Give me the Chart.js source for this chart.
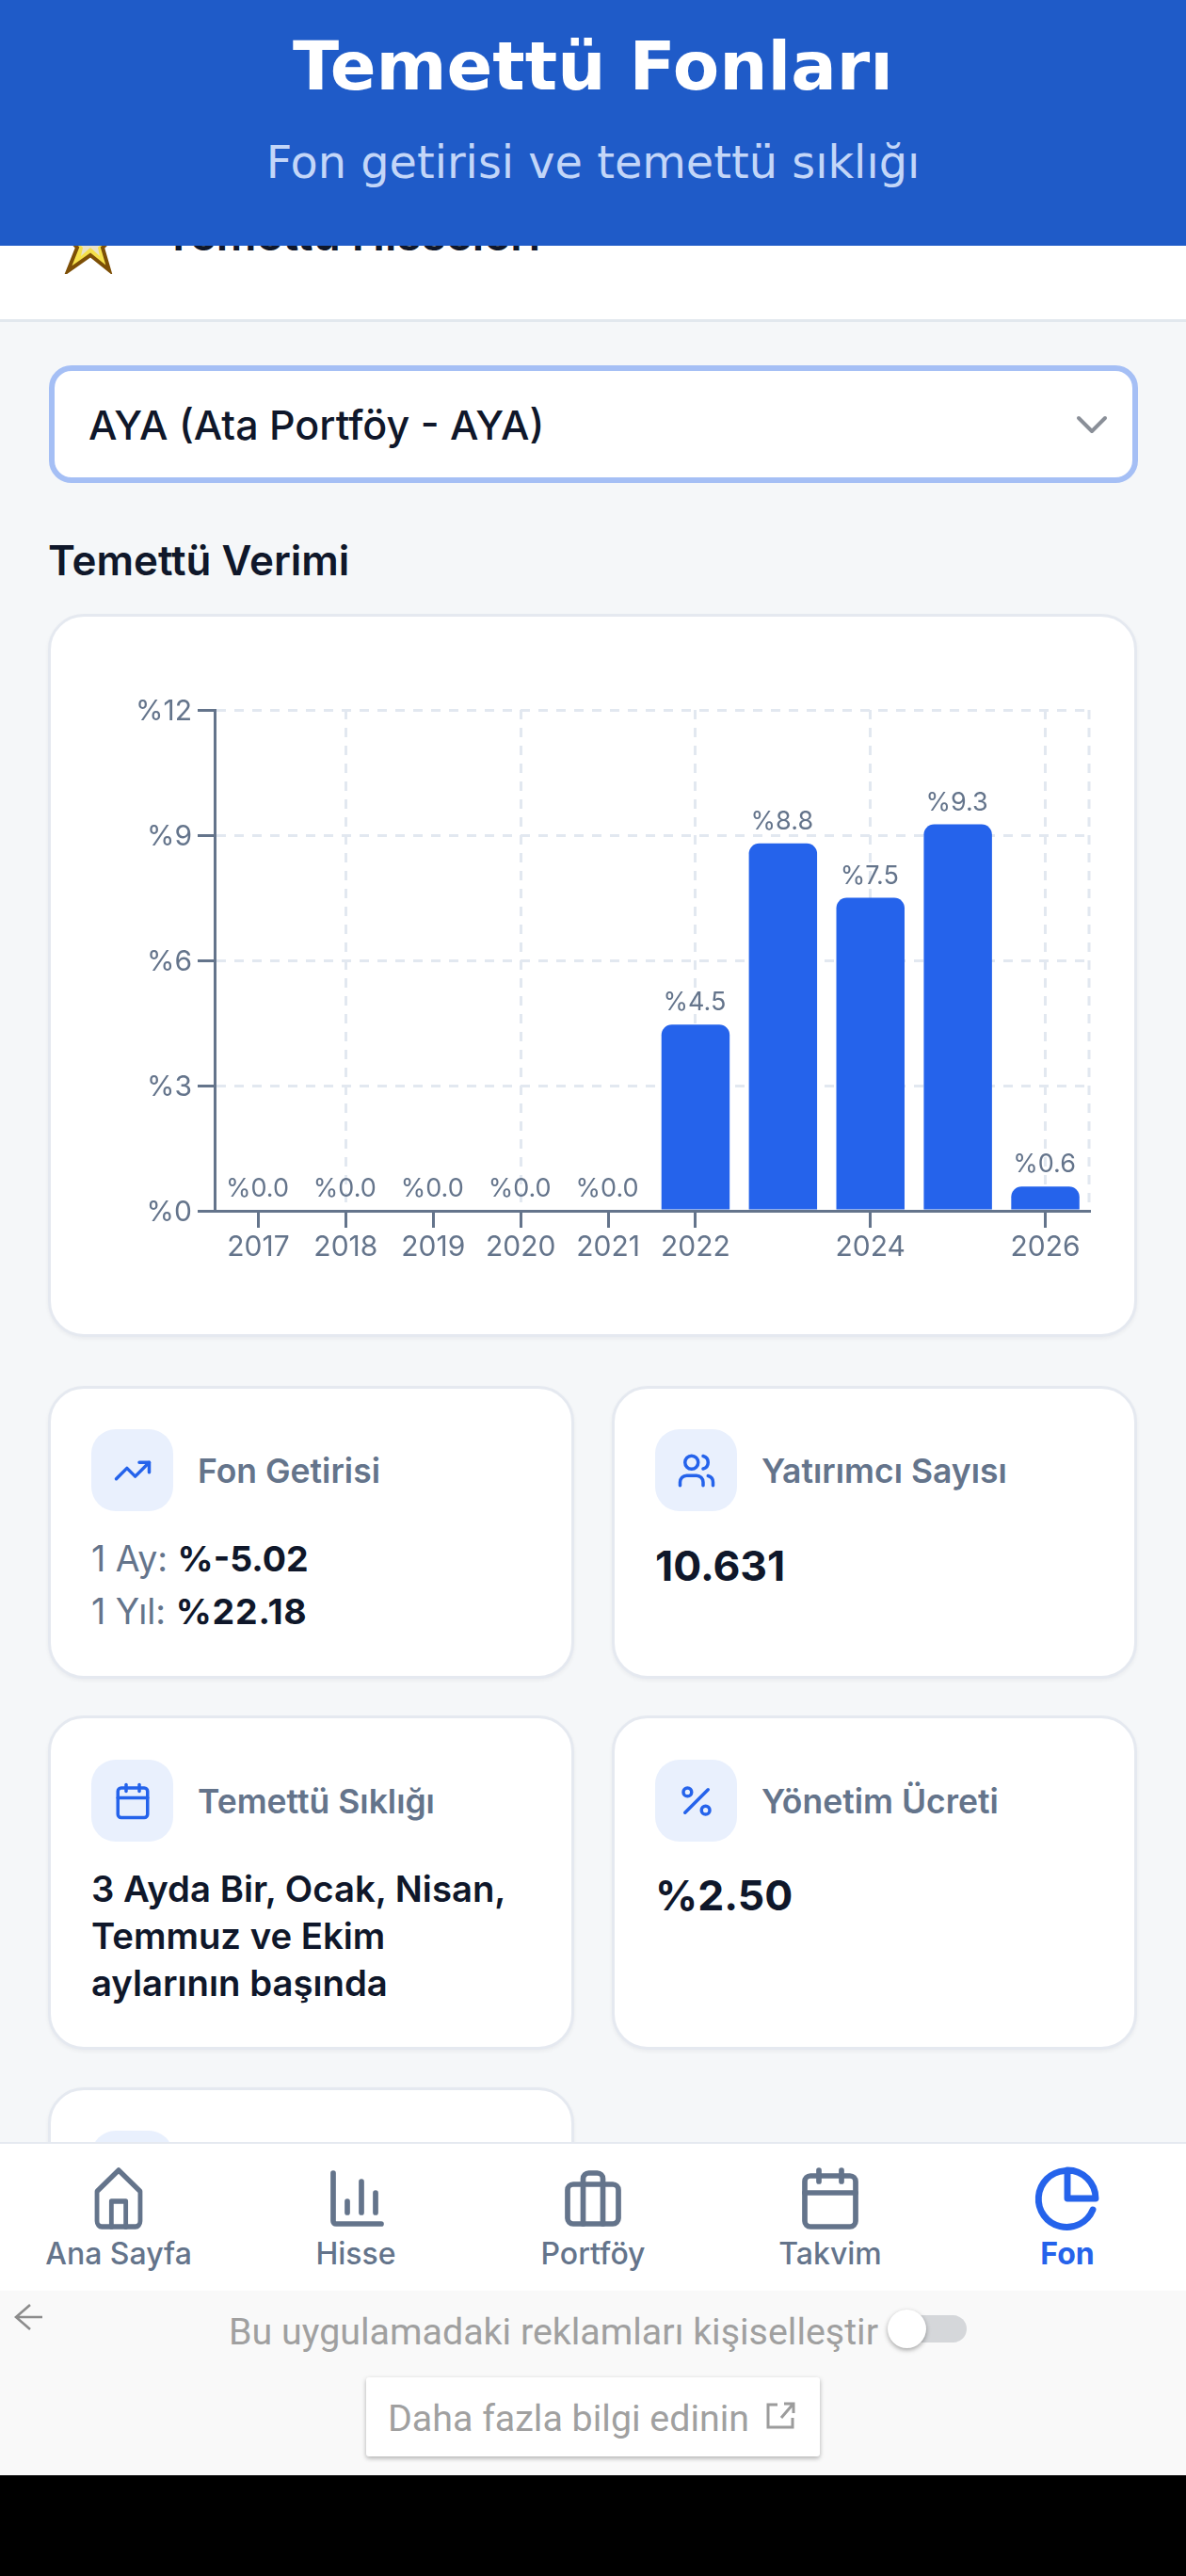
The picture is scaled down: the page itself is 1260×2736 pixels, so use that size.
<!DOCTYPE html>
<html lang="tr">
<head>
<meta charset="utf-8">
<title>Temettü Fonları</title>
<script src="https://cdn.jsdelivr.net/npm/chart.js@4"></script>
<style>
  html, body { margin: 0; padding: 0; }
  body { width: 1260px; height: 2736px; position: relative; overflow: hidden; background: #f5f7f9;
         font-family: Inter, sans-serif; color: #0f172a; }
  .abs { position: absolute; white-space: nowrap; }
  .header { left: 0; top: 0; width: 1260px; height: 261px; background: #1f5bc8; z-index: 5; }
  .card { position: absolute; box-sizing: border-box; background: #fff; border: 3px solid #e5e9f0; border-radius: 38px;
          box-shadow: 0 2px 4px rgba(15,23,42,.05); }
  .ico { position: absolute; width: 87px; height: 87px; background: #e9f0fd; border-radius: 26px;
         display: flex; align-items: center; justify-content: center; }
  .ico svg { width: 42px; height: 42px; fill: none; stroke: #2563eb; stroke-width: 2; stroke-linecap: round; stroke-linejoin: round; }
  .lbl { font-size: 35.5px; font-weight: 600; color: #64748b; line-height: 40px; }
  .ret { font-size: 37.5px; line-height: 44px; color: #64748b; }
  .ret b { color: #0f172a; font-weight: 700; }
  .big { font-size: 44.5px; line-height: 50px; font-weight: 700; }
  .freq { font-size: 38.3px; line-height: 50px; font-weight: 600; }
  .nav { position: absolute; left: 0; top: 2275px; width: 1260px; height: 158px; background: #fff; border-top: 2px solid #e5e9f0; box-sizing: border-box; z-index: 3; }
  .nav-i { position: absolute; width: 252px; text-align: center; color: #64748b; font-size: 32px; font-weight: 500; }
  .nav-i svg { position: absolute; left: 90px; top: 22px; width: 72px; height: 72px; fill: none; stroke: #64748b; stroke-width: 1.9; stroke-linecap: round; stroke-linejoin: round; }
  .nav-i span { position: absolute; left: 0; width: 252px; top: 99px; line-height: 36px; }
  .ad { left: 0; top: 2433px; width: 1260px; height: 196px; background: #f9f9f9; z-index: 3; }
  .black { left: 0; top: 2629px; width: 1260px; height: 107px; background: #000; z-index: 3; }
  #chartBox { position: absolute; left: 52px; top: 653px; width: 1155px; height: 766px; }
</style>
</head>
<body>

<div class="abs header"></div>
<div class="abs" style="left:0;top:28px;width:1260px;text-align:center;font:700 72px/84px 'DejaVu Sans';color:#fff;z-index:6">Temettü Fonları</div>
<div class="abs" style="left:0;top:143px;width:1260px;text-align:center;font:400 47.8px/60px 'DejaVu Sans';color:#c3d6f8;z-index:6">Fon getirisi ve temettü sıklığı</div>

<!-- strip under the header, scrolled away list row -->
<div class="abs" style="left:0;top:200px;width:1260px;height:139px;background:#fff;border-bottom:3px solid #e2e8ee"></div>
<svg class="abs" style="left:66px;top:225px" width="60" height="66" viewBox="0 0 60 66">
  <polygon points="30,2 38,22 57,24 43,38 50,62 30,46 6,63 16,38 3,24 22,22" fill="#f5e04a" stroke="#7d4f06" stroke-width="4"/>
  <polygon points="30,14 36,28 46,30 38,38 40,47 30,38 20,47 22,38 14,30 24,28" fill="#e9e2c8"/>
</svg>
<div class="abs" style="left:174px;top:219px;font-size:47.5px;font-weight:600;line-height:60px">Temettü Hisseleri</div>

<!-- fund select -->
<div class="abs" style="left:52px;top:388px;width:1157px;height:125px;box-sizing:border-box;background:#fff;border:6px solid #a5bff5;border-radius:24px"></div>
<div class="abs" style="left:94px;top:425px;font-size:43px;font-weight:500;line-height:52px">AYA (Ata Portföy - AYA)</div>
<svg class="abs" style="left:1143px;top:441px" width="34" height="20" viewBox="0 0 34 20"><polyline points="3,3 17,17 31,3" fill="none" stroke="#8a8f98" stroke-width="4" stroke-linecap="round" stroke-linejoin="round"/></svg>

<div class="abs" style="left:51px;top:569px;font-size:43.9px;font-weight:600;line-height:52px">Temettü Verimi</div>

<div class="card" style="left:51px;top:652px;width:1157px;height:768px"></div>
<div id="chartBox"><canvas id="yieldChart"></canvas></div>

<!-- stat cards -->
<div class="card" style="left:51px;top:1472px;width:559px;height:311px"></div>
<div class="ico" style="left:97px;top:1518px"><svg viewBox="0 0 24 24"><polyline points="22 7 13.5 15.5 8.5 10.5 2 17"/><polyline points="16 7 22 7 22 13"/></svg></div>
<div class="abs lbl" style="left:210px;top:1543px">Fon Getirisi</div>
<div class="abs ret" style="left:97px;top:1634px">1 Ay: <b>%-5.02</b></div>
<div class="abs ret" style="left:97px;top:1690px">1 Yıl: <b style="letter-spacing:.8px">%22.18</b></div>

<div class="card" style="left:650px;top:1472px;width:558px;height:311px"></div>
<div class="ico" style="left:696px;top:1518px"><svg viewBox="0 0 24 24"><path d="M16 21v-2a4 4 0 0 0-4-4H6a4 4 0 0 0-4 4v2"/><circle cx="9" cy="7" r="4"/><path d="M22 21v-2a4 4 0 0 0-3-3.87"/><path d="M16 3.13a4 4 0 0 1 0 7.75"/></svg></div>
<div class="abs lbl" style="left:809px;top:1543px">Yatırımcı Sayısı</div>
<div class="abs big" style="left:696px;top:1638px">10.631</div>

<div class="card" style="left:51px;top:1822px;width:559px;height:355px"></div>
<div class="ico" style="left:97px;top:1869px"><svg viewBox="0 0 24 24"><rect x="3" y="4" width="18" height="18" rx="2"/><line x1="16" y1="2" x2="16" y2="6"/><line x1="8" y1="2" x2="8" y2="6"/><line x1="3" y1="10" x2="21" y2="10"/></svg></div>
<div class="abs lbl" style="left:210px;top:1894px">Temettü Sıklığı</div>
<div class="abs freq" style="left:97px;top:1981px">3 Ayda Bir, Ocak, Nisan,<br>Temmuz ve Ekim<br>aylarının başında</div>

<div class="card" style="left:650px;top:1822px;width:558px;height:355px"></div>
<div class="ico" style="left:696px;top:1869px"><svg viewBox="0 0 24 24"><line x1="19" y1="5" x2="5" y2="19"/><circle cx="6.5" cy="6.5" r="2.5"/><circle cx="17.5" cy="17.5" r="2.5"/></svg></div>
<div class="abs lbl" style="left:809px;top:1894px">Yönetim Ücreti</div>
<div class="abs big" style="left:696px;top:1988px">%2.50</div>

<div class="card" style="left:51px;top:2217px;width:559px;height:200px"></div>
<div class="ico" style="left:97px;top:2263px"></div>

<!-- bottom tabs -->
<div class="nav">
  <div class="nav-i" style="left:0"><svg viewBox="0 0 24 24"><path d="M3 9.5 12 2l9 7.5V20a2 2 0 0 1-2 2H5a2 2 0 0 1-2-2z" transform="translate(1.8 0) scale(.85 1)"/><polyline points="9 22 9 13 15 13 15 22" transform="translate(1.8 0) scale(.85 1)"/></svg><span>Ana Sayfa</span></div>
  <div class="nav-i" style="left:252px"><svg viewBox="0 0 24 24"><path d="M4 3v17a1 1 0 0 0 1 1h16"/><line x1="9" y1="17" x2="9" y2="13"/><line x1="14" y1="17" x2="14" y2="6"/><line x1="19" y1="17" x2="19" y2="10"/></svg><span>Hisse</span></div>
  <div class="nav-i" style="left:504px"><svg viewBox="0 0 24 24"><rect x="3" y="7" width="18" height="14" rx="2"/><path d="M15.5 21V5a2 2 0 0 0-2-2h-3a2 2 0 0 0-2 2v16"/></svg><span>Portföy</span></div>
  <div class="nav-i" style="left:756px"><svg viewBox="0 0 24 24"><rect x="3" y="4" width="18" height="18" rx="2"/><line x1="16" y1="2" x2="16" y2="6"/><line x1="8" y1="2" x2="8" y2="6"/><line x1="3" y1="10" x2="21" y2="10"/></svg><span>Takvim</span></div>
  <div class="nav-i" style="left:1008px;color:#2563eb;font-weight:700"><svg viewBox="0 0 24 24" style="stroke:#2563eb;stroke-width:2.3"><path d="M21 16a10 10 0 1 1-10-13.8"/><path d="M22 12A10 10 0 0 0 12 2v10z"/></svg><span>Fon</span></div>
</div>

<!-- ad consent strip -->
<div class="abs ad"></div>
<svg class="abs" style="left:12px;top:2445px;z-index:4" width="36" height="32" viewBox="0 0 36 32"><path d="M20 3 5 16l15 13M5 16h28" fill="none" stroke="#8c8c8c" stroke-width="2.6"/></svg>
<div class="abs" style="left:243px;top:2452px;font:400 39.4px/50px Roboto;color:#a0a0a0;z-index:4">Bu uygulamadaki reklamları kişiselleştir</div>
<div class="abs" style="left:944px;top:2459px;width:83px;height:29px;border-radius:15px;background:#d5d7da;z-index:4"></div>
<div class="abs" style="left:943px;top:2453px;width:41px;height:41px;border-radius:50%;background:#fff;box-shadow:0 2px 5px rgba(0,0,0,.35);z-index:4"></div>
<div class="abs" style="left:389px;top:2525px;width:482px;height:84px;background:#fff;border-radius:3px;box-shadow:0 2px 5px rgba(0,0,0,.3);z-index:4"></div>
<div class="abs" style="left:412px;top:2544px;font:400 39.4px/50px Roboto;color:#a0a0a0;z-index:4">Daha fazla bilgi edinin</div>
<svg class="abs" style="left:812px;top:2550px;z-index:4" width="34" height="32" viewBox="0 0 34 32"><path d="M14 4H4v24h26V18M18 18 30 4M21 3h10v10" fill="none" stroke="#9c9c9c" stroke-width="3"/></svg>
<div class="abs black"></div>

<script>
const years = ['2017', '2018', '2019', '2020', '2021', '2022', '2023', '2024', '2025', '2026'];
const yieldPct = [0, 0, 0, 0, 0, 4.46, 8.8, 7.5, 9.26, 0.58];
const xTickLabels = ['2017', '2018', '2019', '2020', '2021', '2022', '', '2024', '', '2026'];
const xGridYears = ['2018', '2020', '2022', '2024', '2026'];
const yTickStep = 3;
const yMax = 12;

const AXIS = '#64748b';
const GRID = '#e2e8f0';
const BAR = '#2563eb';
const DASH = [10, 9];
const FONT = { family: 'Inter', size: 30 };

// dashed right edge of the plot, border.dash only reaches the grid lines
const plotEdge = {
  id: 'plotEdge',
  beforeDatasetsDraw(chart) {
    const { ctx, chartArea: a } = chart;
    ctx.save();
    ctx.strokeStyle = GRID;
    ctx.lineWidth = 3;
    ctx.setLineDash(DASH);
    ctx.beginPath();
    ctx.moveTo(a.right, a.top);
    ctx.lineTo(a.right, a.bottom);
    ctx.stroke();
    ctx.restore();
  }
};

// value labels above the bars (no datalabels plugin on the page)
const barLabels = {
  id: 'barLabels',
  afterDatasetsDraw(chart) {
    const ctx = chart.ctx;
    const meta = chart.getDatasetMeta(0);
    ctx.save();
    ctx.font = '27px Inter';
    ctx.fillStyle = AXIS;
    ctx.textAlign = 'center';
    ctx.textBaseline = 'middle';
    meta.data.forEach((bar, i) => {
      ctx.fillText('%' + yieldPct[i].toFixed(1), bar.x - 1, bar.y - 23);
    });
    ctx.restore();
  }
};

new Chart(document.getElementById('yieldChart'), {
  type: 'bar',
  data: {
    labels: years,
    datasets: [{
      data: yieldPct,
      backgroundColor: BAR,
      borderRadius: { topLeft: 11, topRight: 11 },
      borderSkipped: 'bottom',
      barPercentage: 0.78,
      categoryPercentage: 1
    }]
  },
  plugins: [plotEdge, barLabels],
  options: {
    responsive: true,
    maintainAspectRatio: false,
    animation: false,
    layout: { padding: { top: 101, right: 50, left: 0, bottom: 0 } },
    plugins: { legend: { display: false }, tooltip: { enabled: false } },
    scales: {
      x: {
        grid: {
          offset: false,
          color: c => xGridYears.includes(years[c.index]) ? GRID : 'transparent',
          lineWidth: 3,
          tickColor: c => xTickLabels[c.index] ? AXIS : 'transparent',
          tickWidth: 3,
          tickLength: 18,
          tickBorderDash: []
        },
        border: { color: AXIS, width: 3, dash: DASH, z: 1 },
        ticks: {
          autoSkip: false,
          maxRotation: 0,
          padding: 3,
          color: AXIS,
          font: FONT,
          callback: (v, i) => xTickLabels[i]
        },
        afterFit: s => { s.height = 133; }
      },
      y: {
        min: 0,
        max: yMax,
        grid: {
          color: GRID,
          lineWidth: 3,
          tickColor: AXIS,
          tickWidth: 3,
          tickLength: 18,
          tickBorderDash: []
        },
        border: { color: AXIS, width: 3, dash: DASH, z: 1 },
        ticks: {
          stepSize: yTickStep,
          padding: 6,
          labelOffset: 2,
          color: AXIS,
          font: FONT,
          callback: v => '%' + v
        },
        afterFit: s => { s.width = 176; }
      }
    }
  }
});
</script>
</body>
</html>
